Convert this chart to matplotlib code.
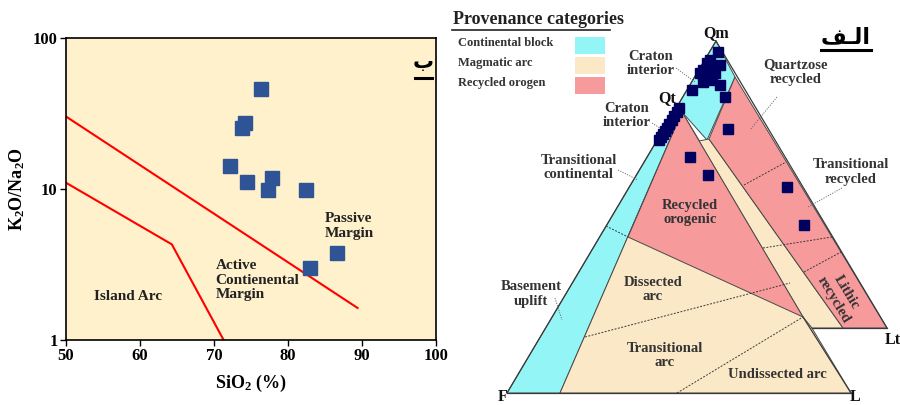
import matplotlib
matplotlib.use("Agg")
import matplotlib.pyplot as plt

plt.rcParams["font.family"] = ["Liberation Serif", "DejaVu Sans"]
plt.rcParams["font.weight"] = "bold"
plt.rcParams["mathtext.fontset"] = "custom"
plt.rcParams["mathtext.rm"] = "Liberation Serif:bold"
plt.rcParams["mathtext.it"] = "Liberation Serif:bold"
plt.rcParams["mathtext.bf"] = "Liberation Serif:bold"

# ── left panel: SiO2 vs K2O/Na2O ─────────────────────────────────────────────
sio2 = [76.3, 74.2, 73.8, 72.2, 74.4, 77.9, 77.3, 82.4, 86.6, 83.0]
k2o_na2o = [45.8, 27.2, 25.2, 14.3, 11.2, 11.9, 9.8, 9.8, 3.79, 3.02]

pm_line_x = [50, 89.4]
pm_line_y = [30.2, 1.63]
ia_line_x = [50, 64.3, 71.3]
ia_line_y = [11.0, 4.3, 1.0]

x_ticks = [50, 60, 70, 80, 90, 100]
y_ticks = [1, 10, 100]
y_tick_labels = ["1", "10", "100"]

# ── right panel: QtFL / QmFLt overlay (drawing units) ────────────────────────
cyan_field = [(716, 41), (735, 77), (707, 140), (682, 112), (560, 393), (507, 393)]
beige_qtfl = [(682, 112), (560, 393), (851, 393)]
beige_strip = [(699, 141), (709, 139), (843, 328), (812, 328), (803, 317)]
pink_orogenic = [(682, 112), (628, 237), (803, 317)]
pink_recycled = [(735, 77), (887, 328), (843, 328), (709, 139)]

outer_left = [(716, 41), (507, 393)]
qmflt_right = [(716, 41), (887, 328)]
qmflt_base = [(812, 328), (887, 328)]
qtfl_base = [(507, 393), (851, 393)]
qtfl_right = [(851, 393), (803, 317)]

field_bounds = [
    [(606, 226), (628, 237)],
    [(585, 337), (790, 283)],
    [(677, 393), (803, 317)],
    [(804, 272), (841, 252)],
    [(763, 248), (832, 237)],
    [(744, 185), (786, 162)],
]
leaders = [
    [(676, 68), (695, 82)],
    [(652, 123), (663, 130)],
    [(777, 97), (750, 130)],
    [(618, 170), (638, 180)],
    [(842, 188), (808, 207)],
    [(555, 298), (562, 320)],
]

samples_x = [718, 710, 720, 707, 703, 712, 715, 708, 700, 703, 712, 720, 692, 725, 728,
             679, 677, 674, 672, 669, 667, 665, 663, 661, 659,
             690, 708, 787, 804]
samples_y = [52, 60, 65, 63, 70, 69, 73, 75, 73, 82, 80, 85, 90, 97, 129,
             108, 112, 116, 120, 124, 128, 131, 134, 137, 140,
             157, 175, 187, 225]

legend_names = ["Continental block", "Magmatic arc", "Recycled orogen"]
legend_colors = ["#94F5F6", "#FBE8C6", "#F79A9B"]

field_labels = [
    ("Craton\ninterior", 651, 63),
    ("Craton\ninterior", 627, 116),
    ("Quartzose\nrecycled", 796, 72),
    ("Transitional\ncontinental", 579, 167),
    ("Transitional\nrecycled", 851, 172),
    ("Recycled\norogenic", 690, 212),
    ("Dissected\narc", 653, 289),
    ("Transitional\narc", 665, 355),
    ("Undissected arc", 777, 375),
    ("Basement\nuplift", 531, 294),
]
corner_labels = [("Qm", 716, 33), ("Qt", 667, 98), ("Lt", 893, 340)]
base_labels = [("L", 855, 405), ("F", 503, 405)]

fig = plt.figure(figsize=(9, 4.05), dpi=100)

# ── left panel ───────────────────────────────────────────────────────────────
ax = fig.add_axes([66 / 900, 1 - 340 / 405, 370 / 900, 302 / 405])
ax.set_facecolor("#FEF1CB")
ax.set_yscale("log")
ax.set_xlim(50, 100)
ax.set_ylim(1, 100)
ax.plot(pm_line_x, pm_line_y, color="red", lw=1.5)
ax.plot(ia_line_x, ia_line_y, color="red", lw=1.5)
ax.plot(sio2, k2o_na2o, "s", color="#2F5496", markersize=9.5, ls="none")
ax.set_xticks(x_ticks)
ax.set_yticks(y_ticks)
ax.set_yticklabels(y_tick_labels)
ax.minorticks_off()
ax.tick_params(labelsize=12, length=4, width=1, pad=2)
for lab in ax.get_xticklabels() + ax.get_yticklabels():
    lab.set_fontweight("bold")
ax.set_xlabel(r"SiO$_2$ (%)", fontsize=13, fontweight="bold", labelpad=6)
ax.set_ylabel(r"K$_2$O/Na$_2$O", fontsize=13, fontweight="bold", labelpad=4)
for s in ax.spines.values():
    s.set_linewidth(1.2)

txt_kw = dict(fontsize=11, fontweight="bold", color="#222222", linespacing=1.15)
ax.text(53.8, 1.94, "Island Arc", va="center", ha="left", **txt_kw)
ax.text(70.2, 2.48, "Active\nContienental\nMargin", va="center", ha="left", **txt_kw)
ax.text(85.0, 5.7, "Passive\nMargin", va="center", ha="left", **txt_kw)
ax.text(0.965, 0.92, "ب", transform=ax.transAxes, family="DejaVu Sans",
        fontsize=15, fontweight="bold", ha="center", va="center")
ax.plot([0.942, 0.99], [0.866, 0.866], transform=ax.transAxes, color="black", lw=2.2)

# ── right panel ──────────────────────────────────────────────────────────────
ax2 = fig.add_axes([0.5, 0, 0.5, 1])
ax2.set_xlim(450, 900)
ax2.set_ylim(405, 0)
ax2.axis("off")

edge = "#4a4a4a"
for poly, col in [(cyan_field, legend_colors[0]), (beige_qtfl, legend_colors[1]),
                  (beige_strip, legend_colors[1]), (pink_orogenic, legend_colors[2]),
                  (pink_recycled, legend_colors[2])]:
    xs, ys = zip(*poly)
    ax2.fill(xs, ys, facecolor=col, edgecolor=edge, lw=0.7, zorder=1)

for seg in [outer_left, qmflt_right, qmflt_base, qtfl_base, qtfl_right]:
    xs, ys = zip(*seg)
    ax2.plot(xs, ys, color="#3a3a3a", lw=0.9, zorder=2)
for seg in field_bounds:
    xs, ys = zip(*seg)
    ax2.plot(xs, ys, color="#3a3a3a", lw=0.7, ls=(0, (2, 1.5)), zorder=2)
for seg in leaders:
    xs, ys = zip(*seg)
    ax2.plot(xs, ys, color="#666666", lw=0.6, ls=(0, (1.5, 1.5)), zorder=2)

ax2.plot(samples_x, samples_y, "s", color="#000060", markersize=6.5, ls="none", zorder=4)

for text, x, y in field_labels:
    ax2.text(x, y, text, ha="center", va="center", fontsize=10.5, fontweight="bold",
             color="#333333", linespacing=1.1, zorder=5)
ax2.text(840, 296, "Lithic\nrecycled", rotation=-59, ha="center", va="center",
         fontsize=10.5, fontweight="bold", color="#333333", linespacing=1.1, zorder=5)
for text, x, y in corner_labels:
    ax2.text(x, y, text, ha="center", va="center", fontsize=11.5, fontweight="bold",
             color="#111111", zorder=5)
for text, x, y in base_labels:
    ax2.text(x, y, text, ha="center", va="bottom", fontsize=11.5, fontweight="bold",
             color="#111111", zorder=5)

# legend block
ax2.text(453, 19, "Provenance categories", ha="left", va="center", fontsize=13,
         fontweight="bold", color="#222222")
ax2.plot([452, 610], [30, 30], color="#222222", lw=1.2)
for i, (name, col) in enumerate(zip(legend_names, legend_colors)):
    yc = 45 + i * 20
    ax2.text(458, yc - 2, name, ha="left", va="center", fontsize=9,
             fontweight="bold", color="#333333")
    ax2.fill([575, 605, 605, 575], [yc - 8, yc - 8, yc + 9, yc + 9],
             facecolor=col, edgecolor="none")

# panel tag
ax2.text(846, 37, "\uFED2\u0640\uFEDF\uFE8D", family="DejaVu Sans", fontsize=16,
         fontweight="bold", ha="center", va="center")
ax2.plot([821, 871], [50, 50], color="black", lw=2.2)

fig.savefig("out.png", dpi=100)
